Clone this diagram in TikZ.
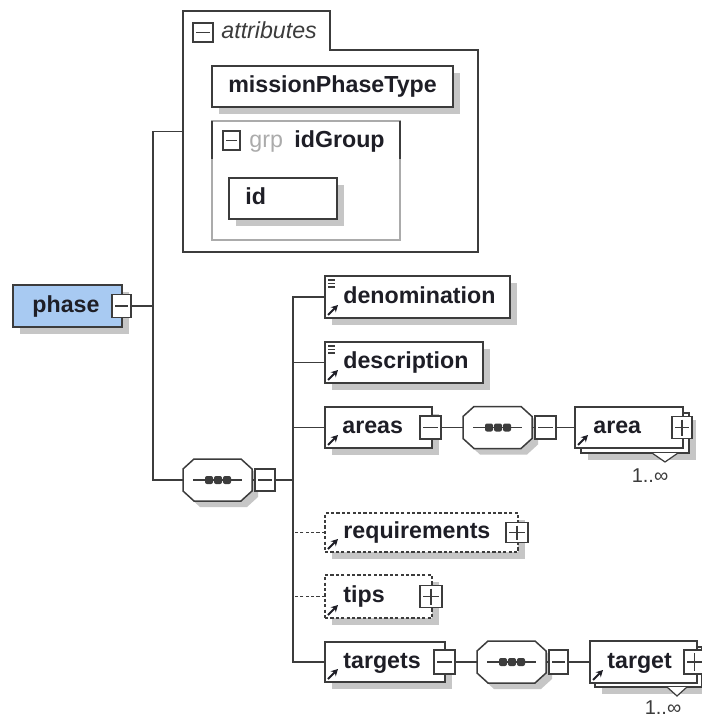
\documentclass[tikz,border=0pt]{standalone}
\usepackage{fontspec}
\setmainfont{Liberation Sans}
\usetikzlibrary{arrows.meta,shadows}

\definecolor{ink}{HTML}{3C3C3C}
\definecolor{txt}{HTML}{1E1E26}
\definecolor{shade}{HTML}{C6C6C6}
\definecolor{phasefill}{HTML}{A8CAF2}
\definecolor{grpline}{HTML}{ABABAB}

% collapse / expand buttons: name, x, y, width, height (px)
\newcommand\minusbtn[5]{%
  \node[btn, sz={#4}{#5}] (#1) at (#2,#3) {};
  \draw[btnline] ([xshift=1.5pt]#1.west) -- ([xshift=-1.5pt]#1.east);}
\newcommand\plusbtn[5]{%
  \minusbtn{#1}{#2}{#3}{#4}{#5}%
  \draw[btnline] ([yshift=-1.5pt]#1.north) -- ([yshift=1.5pt]#1.south);}

% sequence compositor (octagon with dotted bar)
\newcommand\octfill[3]{\path[#1] (#2+11,#3) -- (#2+58,#3) -- (#2+69,#3+10) -- (#2+69,#3+32)
  -- (#2+58,#3+42) -- (#2+11,#3+42) -- (#2,#3+32) -- (#2,#3+10) -- cycle;}
\newcommand\seqnode[3]{%
  \octfill{fill=shade}{#2+6}{#3+6}%
  \node[sz={69}{42}, inner sep=0pt, outer sep=0pt, anchor=north west] (#1) at (#2,#3) {};
  \octfill{fill=white, draw=ink, line width=0.75pt}{#2}{#3}%
  \draw[ink, line width=0.7pt] (#2+10,#3+21) -- (#2+59,#3+21);
  \foreach \dx in {22,31,40} \fill[ink, rounded corners=1pt] (#2+\dx,#3+17) rectangle ++(8,8);}

% element markers: reference arrow and simple-content lines
\newcommand\refmark[1]{\draw[refarrow] ([shift={(3,-3)}]#1.south west) -- ++(10,-10);}
\newcommand\simplemark[1]{\foreach \k in {0,3.5,7}
  \draw[line width=0.65pt, ink] ([shift={(3,4+\k)}]#1.north west) -- ++(7,0);}

\begin{document}
\begin{tikzpicture}[x=0.5pt, y=-0.5pt,
  sz/.style 2 args={minimum width={#1*0.5pt}, minimum height={#2*0.5pt}},
  box/.style={draw=ink, fill=white, rectangle, inner sep=0pt, outer sep=0pt,
              line width=0.75pt, anchor=north west},
  shadowed/.style={drop shadow={shadow xshift=3.5pt, shadow yshift=-3.5pt,
              fill=shade, opacity=1}},
  optional/.style={dash pattern=on 1.6pt off 1.1pt},
  btn/.style={box, line width=0.6pt},
  btnline/.style={draw=ink, line width=0.6pt},
  lbl/.style={font=\bfseries\fontsize{11.6}{13}\selectfont, text=txt, inner sep=0pt,
              text height=8.3pt, text depth=2.2pt, anchor=west},
  conn/.style={draw=ink, line width=0.75pt},
  refarrow/.style={draw=txt, line width=1pt, -{Stealth[length=3.4pt,width=3.6pt]}},
  note/.style={font=\fontsize{10}{12}\selectfont, text=ink, inner sep=0pt}]

\fill[white] (0,0) rectangle (701,717);
\useasboundingbox (0,0) rectangle (701,717);

% ---------- root element ----------
\node[box, shadowed, fill=phasefill, sz={109}{42}] (phase) at (13,285) {};
\node[lbl] (phaseT) at (32,306) {phase};
\minusbtn{phaseBtn}{112}{294.5}{19}{23}

% ---------- attributes ----------
\node[sz={295}{241}, inner sep=0pt, outer sep=0pt, anchor=north west] (attrs) at (183,11) {};
\draw[ink, line width=0.75pt] (183,252) -- (183,11) -- (330,11) -- (330,50) -- (478,50)
  -- (478,252) -- cycle;
\minusbtn{attrBtn}{193}{23}{20}{19}
\node[font=\itshape\fontsize{11.6}{13}\selectfont, text=ink, inner sep=0pt,
      text height=8.3pt, text depth=2.2pt, anchor=west] (attrT) at (221,32) {attributes};

\node[box, shadowed, sz={241}{41}, font=\bfseries\fontsize{11.6}{13}\selectfont,
      text=txt, text height=8.3pt, text depth=2.2pt] (mpt) at (212,66) {missionPhaseType};

\node[draw=grpline, fill=white, rectangle, inner sep=0pt, outer sep=0pt, line width=0.75pt,
      anchor=north west, sz={188}{119}] (grp) at (212,121) {};
\draw[ink, line width=0.75pt] (grp.north west) -- ++(0,38);
\draw[ink, line width=0.75pt] (grp.north east) -- ++(0,38);
\minusbtn{grpBtn}{223}{131}{17}{19}
\node[font=\fontsize{11.6}{13}\selectfont, text=grpline, inner sep=0pt,
      text height=8.3pt, text depth=2.2pt, anchor=west] (grpT) at (249,141) {grp};
\node[lbl] (grpName) at (294,141) {idGroup};

\node[box, shadowed, sz={108}{41}] (id) at (229,178) {};
\node[lbl] (idT) at (245,198.5) {id};

% ---------- content model ----------
\seqnode{seq1}{183}{459}
\minusbtn{seq1Btn}{255}{469}{20}{22}

\node[box, shadowed, sz={185}{42}] (denom) at (325,276) {};
\node[lbl] (denomT) at ([xshift=9pt]denom.west) {denomination};
\simplemark{denom} \refmark{denom}

\node[box, shadowed, sz={158}{41}] (desc) at (325,342) {};
\node[lbl] (descT) at ([xshift=9pt]desc.west) {description};
\simplemark{desc} \refmark{desc}

\node[box, shadowed, sz={107}{41}] (areas) at (325,407) {};
\node[lbl] (areasT) at ([xshift=8.5pt]areas.west) {areas};
\refmark{areas}
\minusbtn{areasBtn}{420}{416}{21}{23}

\seqnode{seq2}{463}{406.5}
\minusbtn{seq2Btn}{535}{416}{21}{23}

\node[box, shadowed, sz={108}{40}] (areaBack) at (581,413) {};
\filldraw[ink, fill=white, line width=0.6pt] (652,453) -- (665,462) -- (678,453);
\node[box, sz={108}{41}] (area) at (575,407) {};
\node[lbl] (areaT) at ([xshift=9pt]area.west) {area};
\refmark{area}
\plusbtn{areaBtn}{672}{416.5}{20}{22}
\node[note] (areaOcc) at (650,476) {1..∞};

\node[box, shadowed, optional, sz={193}{39}] (req) at (325,513) {};
\node[lbl] (reqT) at ([xshift=9pt]req.west) {requirements};
\refmark{req}
\plusbtn{reqBtn}{506}{522.5}{22}{20}

\node[box, shadowed, optional, sz={107}{43}] (tips) at (325,575) {};
\node[lbl] (tipsT) at ([xshift=9pt]tips.west) {tips};
\refmark{tips}
\plusbtn{tipsBtn}{420}{585.5}{22}{22}

\node[box, shadowed, sz={120}{40}] (targets) at (325,642) {};
\node[lbl] (targetsT) at ([xshift=9pt]targets.west) {targets};
\refmark{targets}
\minusbtn{targetsBtn}{434}{650}{21}{24}

\seqnode{seq3}{477}{641}
\minusbtn{seq3Btn}{549}{650}{19}{24}

\node[box, shadowed, sz={107}{40}] (targetBack) at (595,647) {};
\filldraw[ink, fill=white, line width=0.6pt] (667,687) -- (677,696) -- (687,687);
\node[box, sz={107}{42}] (target) at (590,641) {};
\node[lbl] (targetT) at ([xshift=8.5pt]target.west) {target};
\refmark{target}
\plusbtn{targetBtn}{684}{650}{21}{24}
\node[note] (targetOcc) at (663,708) {1..∞};

% ---------- connectors ----------
\coordinate (j1) at (153,306);
\coordinate (j2) at (293,480);
\draw[conn] (phaseBtn.east) -- (j1);
\draw[conn] (attrs.west) -| (j1) |- (seq1.west);
\draw[conn] (seq1.east) -- (seq1Btn.west);
\draw[conn] (seq1Btn.east) -- (j2);
\draw[conn] (denom.west) -| (j2);
\draw[conn] (targets.west) -| (j2);
\draw[conn] (desc.west) -- (desc.west -| j2);
\draw[conn] (areas.west) -- (areas.west -| j2);
\draw[conn, optional] (req.west) -- (req.west -| j2);
\draw[conn, optional] (tips.west) -- (tips.west -| j2);
\draw[conn] (areasBtn.east) -- (seq2.west);
\draw[conn] (seq2.east) -- (seq2Btn.west);
\draw[conn] (seq2Btn.east) -- (area.west);
\draw[conn] (targetsBtn.east) -- (seq3.west);
\draw[conn] (seq3.east) -- (seq3Btn.west);
\draw[conn] (seq3Btn.east) -- (target.west);
\end{tikzpicture}
\end{document}
